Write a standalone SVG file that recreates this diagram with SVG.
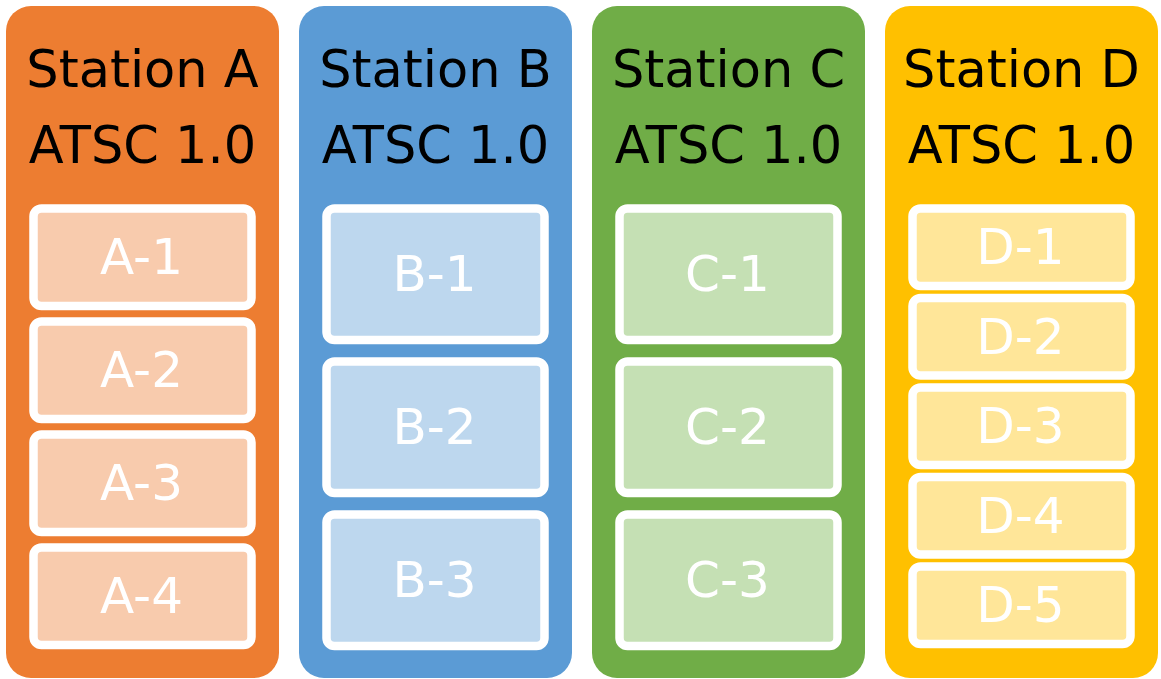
<svg xmlns="http://www.w3.org/2000/svg" width="1161" height="679" viewBox="0 0 1161 679">
<style>
.panel{stroke:none}
.title{font-family:"DejaVu Sans",Verdana,sans-serif;font-size:51px;fill:#000;text-anchor:middle}
.box{stroke:#fff;stroke-width:8.5}
.lbl{font-family:"DejaVu Sans",Verdana,sans-serif;font-size:50px;fill:#fff;text-anchor:middle}
.a{fill:#ED7D31}.al{fill:#F8CBAD}
.b{fill:#5B9BD5}.bl{fill:#BDD7EE}
.c{fill:#70AD47}.cl{fill:#C5E0B4}
.d{fill:#FFC000}.dl{fill:#FFE699}
</style>
<rect width="1161" height="679" fill="#fff"/>
<g id="stationA">
<rect class="panel a" x="6" y="6" width="273" height="672" rx="25"/>
<text class="title" x="142.5" y="86.5">Station A</text>
<text class="title" x="142.5" y="162.5">ATSC 1.0</text>
<g id="A-1"><rect class="box al" x="33.5" y="208.5" width="218" height="97.5" rx="8"/><text class="lbl" x="141.5" y="274">A-1</text></g>
<g id="A-2"><rect class="box al" x="33.5" y="321.5" width="218" height="97.5" rx="8"/><text class="lbl" x="141.5" y="387">A-2</text></g>
<g id="A-3"><rect class="box al" x="33.5" y="434.5" width="218" height="97.5" rx="8"/><text class="lbl" x="141.5" y="500">A-3</text></g>
<g id="A-4"><rect class="box al" x="33.5" y="547.5" width="218" height="97.5" rx="8"/><text class="lbl" x="141.5" y="613">A-4</text></g>
</g>
<g id="stationB">
<rect class="panel b" x="299" y="6" width="273" height="672" rx="25"/>
<text class="title" x="435.5" y="86.5">Station B</text>
<text class="title" x="435.5" y="162.5">ATSC 1.0</text>
<g id="B-1"><rect class="box bl" x="326.5" y="208.5" width="218" height="131.5" rx="8"/><text class="lbl" x="434.5" y="291">B-1</text></g>
<g id="B-2"><rect class="box bl" x="326.5" y="361.5" width="218" height="131.5" rx="8"/><text class="lbl" x="434.5" y="444">B-2</text></g>
<g id="B-3"><rect class="box bl" x="326.5" y="514.5" width="218" height="131.5" rx="8"/><text class="lbl" x="434.5" y="597">B-3</text></g>
</g>
<g id="stationC">
<rect class="panel c" x="592" y="6" width="273" height="672" rx="25"/>
<text class="title" x="728.5" y="86.5">Station C</text>
<text class="title" x="728.5" y="162.5">ATSC 1.0</text>
<g id="C-1"><rect class="box cl" x="619.5" y="208.5" width="218" height="131.5" rx="8"/><text class="lbl" x="727.5" y="291">C-1</text></g>
<g id="C-2"><rect class="box cl" x="619.5" y="361.5" width="218" height="131.5" rx="8"/><text class="lbl" x="727.5" y="444">C-2</text></g>
<g id="C-3"><rect class="box cl" x="619.5" y="514.5" width="218" height="131.5" rx="8"/><text class="lbl" x="727.5" y="597">C-3</text></g>
</g>
<g id="stationD">
<rect class="panel d" x="885" y="6" width="273" height="672" rx="25"/>
<text class="title" x="1021.5" y="86.5">Station D</text>
<text class="title" x="1021.5" y="162.5">ATSC 1.0</text>
<g id="D-1"><rect class="box dl" x="912.5" y="208.5" width="218" height="77.5" rx="8"/><text class="lbl" x="1020.5" y="264">D-1</text></g>
<g id="D-2"><rect class="box dl" x="912.5" y="298" width="218" height="77.5" rx="8"/><text class="lbl" x="1020.5" y="353.5">D-2</text></g>
<g id="D-3"><rect class="box dl" x="912.5" y="387.5" width="218" height="77.5" rx="8"/><text class="lbl" x="1020.5" y="443">D-3</text></g>
<g id="D-4"><rect class="box dl" x="912.5" y="477" width="218" height="77.5" rx="8"/><text class="lbl" x="1020.5" y="532.5">D-4</text></g>
<g id="D-5"><rect class="box dl" x="912.5" y="566.5" width="218" height="77.5" rx="8"/><text class="lbl" x="1020.5" y="622">D-5</text></g>
</g>
<g id="connectors"/>
</svg>
